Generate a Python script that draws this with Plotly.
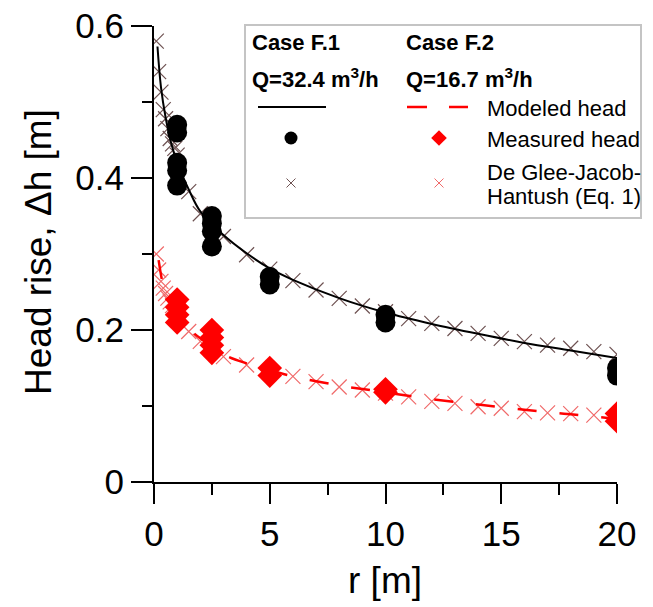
import plotly.graph_objects as go

# ---------------- data ----------------
r_meas_f1 = [1, 1, 1, 1, 1, 2.5, 2.5, 2.5, 2.5, 5, 5, 10, 10, 20, 20]
h_meas_f1 = [0.47, 0.46, 0.42, 0.41, 0.39, 0.35, 0.34, 0.33, 0.31, 0.27, 0.26, 0.22, 0.21, 0.15, 0.14]

r_meas_f2 = [1, 1, 1, 1, 2.5, 2.5, 2.5, 2.5, 5, 5, 10, 10, 20, 20]
h_meas_f2 = [0.24, 0.23, 0.22, 0.21, 0.20, 0.19, 0.18, 0.17, 0.15, 0.14, 0.122, 0.118, 0.09, 0.08]

r_model_f1 = [0.15, 0.3, 0.5, 0.75, 1, 1.5, 2, 3, 4, 5, 6, 8, 10, 12, 14, 16, 18, 20]
h_model_f1 = [0.573, 0.52, 0.48, 0.445, 0.42, 0.385, 0.356, 0.325, 0.301, 0.281, 0.266, 0.242, 0.223, 0.208, 0.195, 0.183, 0.173, 0.163]

r_model_f2 = [0.2, 0.35, 0.5, 0.75, 1, 1.5, 2, 3, 4, 5, 6, 8, 10, 12, 14, 16, 18, 20]
h_model_f2 = [0.292, 0.265, 0.248, 0.232, 0.22, 0.202, 0.189, 0.168, 0.156, 0.147, 0.139, 0.127, 0.118, 0.109, 0.102, 0.095, 0.089, 0.083]

r_dg = [0.1, 0.2, 0.3, 0.4, 0.5, 0.6, 0.7, 0.8, 0.9, 1.0, 1.5, 2, 3, 4, 5, 6, 7, 8, 9, 10,
        11, 12, 13, 14, 15, 16, 17, 18, 19, 20]
h_dg_f1 = [0.58, 0.54, 0.513, 0.49, 0.478, 0.465, 0.452, 0.445, 0.439, 0.43, 0.382, 0.353, 0.323, 0.299, 0.28,
           0.265, 0.2526, 0.2417, 0.2316, 0.224, 0.215, 0.2088, 0.202, 0.1956, 0.189, 0.1846, 0.180, 0.176, 0.1715, 0.168]
h_dg_f2 = [0.30, 0.279, 0.264, 0.255, 0.248, 0.242, 0.237, 0.232, 0.228, 0.224, 0.198, 0.185, 0.165, 0.154, 0.145,
           0.139, 0.132, 0.125, 0.121, 0.117, 0.112, 0.106, 0.1035, 0.099, 0.097, 0.0925, 0.091, 0.090, 0.088, 0.086]

x_ticks = [0, 5, 10, 15, 20]
x_tick_labels = ["0", "5", "10", "15", "20"]
y_ticks = [0, 0.2, 0.4, 0.6]
y_tick_labels = ["0", "0.2", "0.4", "0.6"]
y_minor_ticks = [0.1, 0.3, 0.5]

# ---------------- styling ----------------
OFF = 8                      # default page margin of the html body
W, H = 653 - OFF, 607 - OFF  # figure size so that it fits the window
# plot area in page pixels: x 154..617, y 26..482
L, T = 154 - OFF, 26 - OFF
R, B = W - (617 - OFF), H - (482 - OFF)
PW, PH = W - L - R, H - T - B
FONT = "Liberation Sans, Arial, sans-serif"
BLACK_X = "#6e5252"
RED_X = "#f06a6a"
RED = "#ff0000"
EPS = 1e-6


def px(x):
    return (x - OFF - L) / PW


def py(y):
    return (H - B - (y - OFF)) / PH


def xmark(color, size, width):
    return dict(symbol="x-thin-open", size=size, color=color, line=dict(color=color, width=width))


fig = go.Figure()

fig.add_trace(go.Scatter(x=r_dg, y=h_dg_f1, mode="markers", marker=xmark(BLACK_X, 15, 1.2), showlegend=False))
fig.add_trace(go.Scatter(x=r_dg, y=h_dg_f2, mode="markers", marker=xmark(RED_X, 15, 1.2), showlegend=False))
fig.add_trace(go.Scatter(x=r_model_f1, y=h_model_f1, mode="lines", line=dict(color="black", width=2, shape="spline"),
                         showlegend=False))
fig.add_trace(go.Scatter(x=r_model_f2, y=h_model_f2, mode="lines",
                         line=dict(color=RED, width=2.5, dash="19px,23px", shape="spline"), showlegend=False))
fig.add_trace(go.Scatter(x=r_meas_f1, y=h_meas_f1, mode="markers",
                         marker=dict(symbol="circle", size=20, color="black", line=dict(width=0)), showlegend=False))
fig.add_trace(go.Scatter(x=r_meas_f2, y=h_meas_f2, mode="markers",
                         marker=dict(symbol="diamond", size=19, color=RED, line=dict(width=0)), showlegend=False))

# ---- custom legend (legend-symbol traces on an overlay axis in page-pixel units) ----
leg_sym_x = [291, 439]
leg_rows_y = [138, 183]
fig.add_trace(go.Scatter(x=[leg_sym_x[0]], y=[leg_rows_y[0]], xaxis="x2", yaxis="y2", mode="markers",
                         marker=dict(symbol="circle", size=13, color="black"), showlegend=False))
fig.add_trace(go.Scatter(x=[leg_sym_x[1]], y=[leg_rows_y[0]], xaxis="x2", yaxis="y2", mode="markers",
                         marker=dict(symbol="diamond", size=12, color=RED), showlegend=False))
fig.add_trace(go.Scatter(x=[leg_sym_x[0]], y=[leg_rows_y[1]], xaxis="x2", yaxis="y2", mode="markers",
                         marker=xmark(BLACK_X, 9, 1), showlegend=False))
fig.add_trace(go.Scatter(x=[leg_sym_x[1]], y=[leg_rows_y[1]], xaxis="x2", yaxis="y2", mode="markers",
                         marker=xmark(RED_X, 9, 1), showlegend=False))

shapes = [
    dict(type="rect", xref="paper", yref="paper", x0=px(245), x1=px(641), y0=py(218), y1=py(25),
         line=dict(color="#c4c4c4", width=2), fillcolor="white", layer="below"),
    dict(type="line", xref="paper", yref="paper", x0=px(258), x1=px(326), y0=py(107), y1=py(107),
         line=dict(color="black", width=2)),
    dict(type="line", xref="paper", yref="paper", x0=px(407), x1=px(468), y0=py(107), y1=py(107),
         line=dict(color=RED, width=2.5, dash="20px,22px")),
]

ann = []


def txt(x, y, s, size=22, bold=False, xanchor="left", angle=0):
    ann.append(dict(xref="paper", yref="paper", x=px(x), y=py(y), text=("<b>%s</b>" % s) if bold else s,
                    showarrow=False, xanchor=xanchor, yanchor="middle",
                    font=dict(family=FONT, size=size, color="black"), textangle=angle, align="left"))


txt(250, 43, "Case F.1", bold=True)
txt(250, 78, "Q=32.4 m<sup>3</sup>/h", bold=True)
txt(404, 43, "Case F.2", bold=True)
txt(404, 78, "Q=16.7 m<sup>3</sup>/h", bold=True)
txt(485, 108, "Modeled head")
txt(485, 139, "Measured head")
txt(485, 172, "De Glee-Jacob-")
txt(485, 196, "Hantush (Eq. 1)")

# axis titles
txt(38, 252, "Head rise, \u0394h [m]", size=37, xanchor="center", angle=-90)
txt(385, 580, "r [m]", size=37, xanchor="center")

axis_common = dict(ticks="outside", tickwidth=2, tickcolor="black", showline=True, linecolor="black", linewidth=2,
                   showgrid=False, zeroline=False, automargin=False, ticklabeloverflow="allow",
                   tickfont=dict(family=FONT, size=35, color="black"))

fig.update_layout(
    width=W, height=H, margin=dict(l=L, r=R, t=T, b=B, autoexpand=False),
    paper_bgcolor="white", plot_bgcolor="white",
    shapes=shapes, annotations=ann,
    xaxis=dict(range=[0, 20 + EPS * 20], tickvals=x_ticks, ticktext=x_tick_labels, ticklen=20,
               minor=dict(dtick=2.5, tick0=0, ticks="outside", ticklen=11, tickwidth=2, tickcolor="black",
                          showgrid=False), **axis_common),
    yaxis=dict(range=[0, 0.6 + EPS], tickvals=y_ticks, ticktext=y_tick_labels, ticklen=21,
               minor=dict(tickvals=y_minor_ticks, ticks="outside", ticklen=10, tickwidth=2, tickcolor="black",
                          showgrid=False), **axis_common),
    xaxis2=dict(overlaying="x", range=[154, 617], visible=False),
    yaxis2=dict(overlaying="y", range=[482, 26], visible=False),
)

fig.write_html("out.html")
